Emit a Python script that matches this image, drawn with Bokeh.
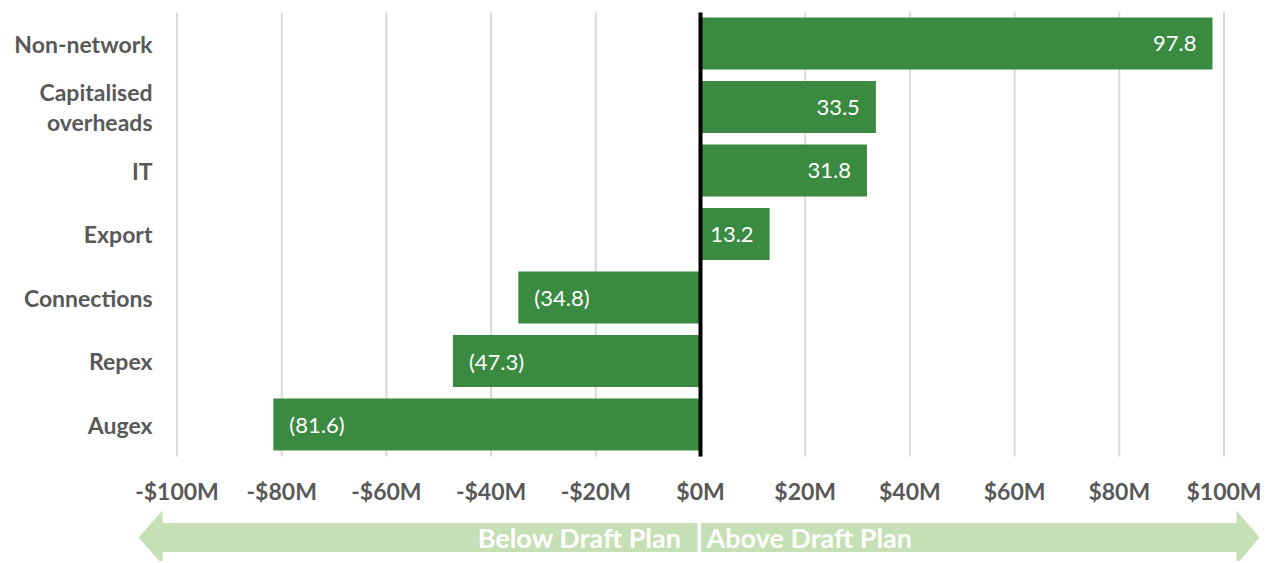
from bokeh.plotting import figure
from bokeh.models import ColumnDataSource, Range1d
from bokeh.core.properties import value
from bokeh.embed import file_html
from bokeh.resources import INLINE

categories = ["Non-network", "Capitalised\noverheads", "IT", "Export",
              "Connections", "Repex", "Augex"]
values = [97.8, 33.5, 31.8, 13.2, -34.8, -47.3, -81.6]
tick_values = [-100, -80, -60, -40, -20, 0, 20, 40, 60, 80, 100]
tick_labels = ["-$100M", "-$80M", "-$60M", "-$40M", "-$20M", "$0M",
               "$20M", "$40M", "$60M", "$80M", "$100M"]
arrow_labels = ["Below Draft Plan", "Above Draft Plan"]

FONT = "Lato"
GREEN = "#3a8a41"
LIGHT = "#c5e0b4"
GRAY = "#595959"

W, H = 1270, 561
PX = 5.235          # pixels per $M
ZERO = 700          # pixel x of $0M
# layout (pixel rows; y range runs top-down so data y == pixel y)
ROW_TOP, ROW = 43, 63.5
BAR_H = 52
GRID_TOP, GRID_BOT = 12, 456
TICK_Y = 490
LABEL_RIGHT = 152
ARROW_Y = 537

x_lo = (0 - ZERO) / PX
x_hi = (W - ZERO) / PX
p = figure(width=W, height=H, x_range=Range1d(x_lo, x_hi),
           y_range=Range1d(H, 0), output_backend="svg", toolbar_location=None,
           min_border=0)
p.axis.visible = False
p.grid.grid_line_color = None
p.outline_line_color = None
p.background_fill_color = "white"

ypos = [ROW_TOP + i * ROW for i in range(len(categories))]
labels = [("%.1f" % v) if v >= 0 else "(%.1f)" % (-v) for v in values]
src = ColumnDataSource(dict(
    y=ypos, val=values, lab=labels,
    off=[-16 if v >= 0 else 16 for v in values],
    align=["right" if v >= 0 else "left" for v in values],
))

# vertical gridlines
p.segment(x0=tick_values, x1=tick_values, y0=[GRID_TOP] * len(tick_values),
          y1=[GRID_BOT] * len(tick_values), line_color="#d9d9d9", line_width=2)

# bars
p.hbar(y="y", right="val", left=0, height=BAR_H, source=src,
       fill_color=GREEN, line_color=None)
p.text(x="val", y="y", text="lab", x_offset="off", text_align="align",
       text_baseline="middle", source=src, text_color="white",
       text_font=value(FONT), text_font_size="22px")

# zero line
p.segment(x0=[0], x1=[0], y0=[GRID_TOP], y1=[GRID_BOT], line_color="black",
          line_width=4)

# category labels (left of the bars)
x_lab = (LABEL_RIGHT - ZERO) / PX
p.text(x=[x_lab] * len(categories), y=ypos, text=categories, text_align="right",
       text_baseline="middle", text_color=GRAY, text_font=value(FONT),
       text_font_style="bold", text_font_size="23px", text_line_height=1.1)

# x tick labels
p.text(x=tick_values, y=[TICK_Y] * len(tick_values), text=tick_labels,
       text_align="center", text_baseline="middle", text_color=GRAY,
       text_font=value(FONT), text_font_style="bold", text_font_size="23px")

# direction arrows
def px(pix_x):
    return (pix_x - ZERO) / PX

bh, hh = 14.5, 27
yc = ARROW_Y
p.patches(xs=[[px(138), px(162), px(162), px(697), px(697), px(162), px(162)],
              [px(1259), px(1236), px(1236), px(700.5), px(700.5), px(1236), px(1236)]],
          ys=[[yc, yc - hh, yc - bh, yc - bh, yc + bh, yc + bh, yc + hh]] * 2,
          fill_color=LIGHT, line_color=None)
p.text(x=[px(681), px(706)], y=[yc, yc], text=arrow_labels,
       text_align=["right", "left"], text_baseline="middle", text_color="white",
       text_font=value(FONT), text_font_style="bold", text_font_size="27px")

open("out.html", "w").write(file_html(p, INLINE))
